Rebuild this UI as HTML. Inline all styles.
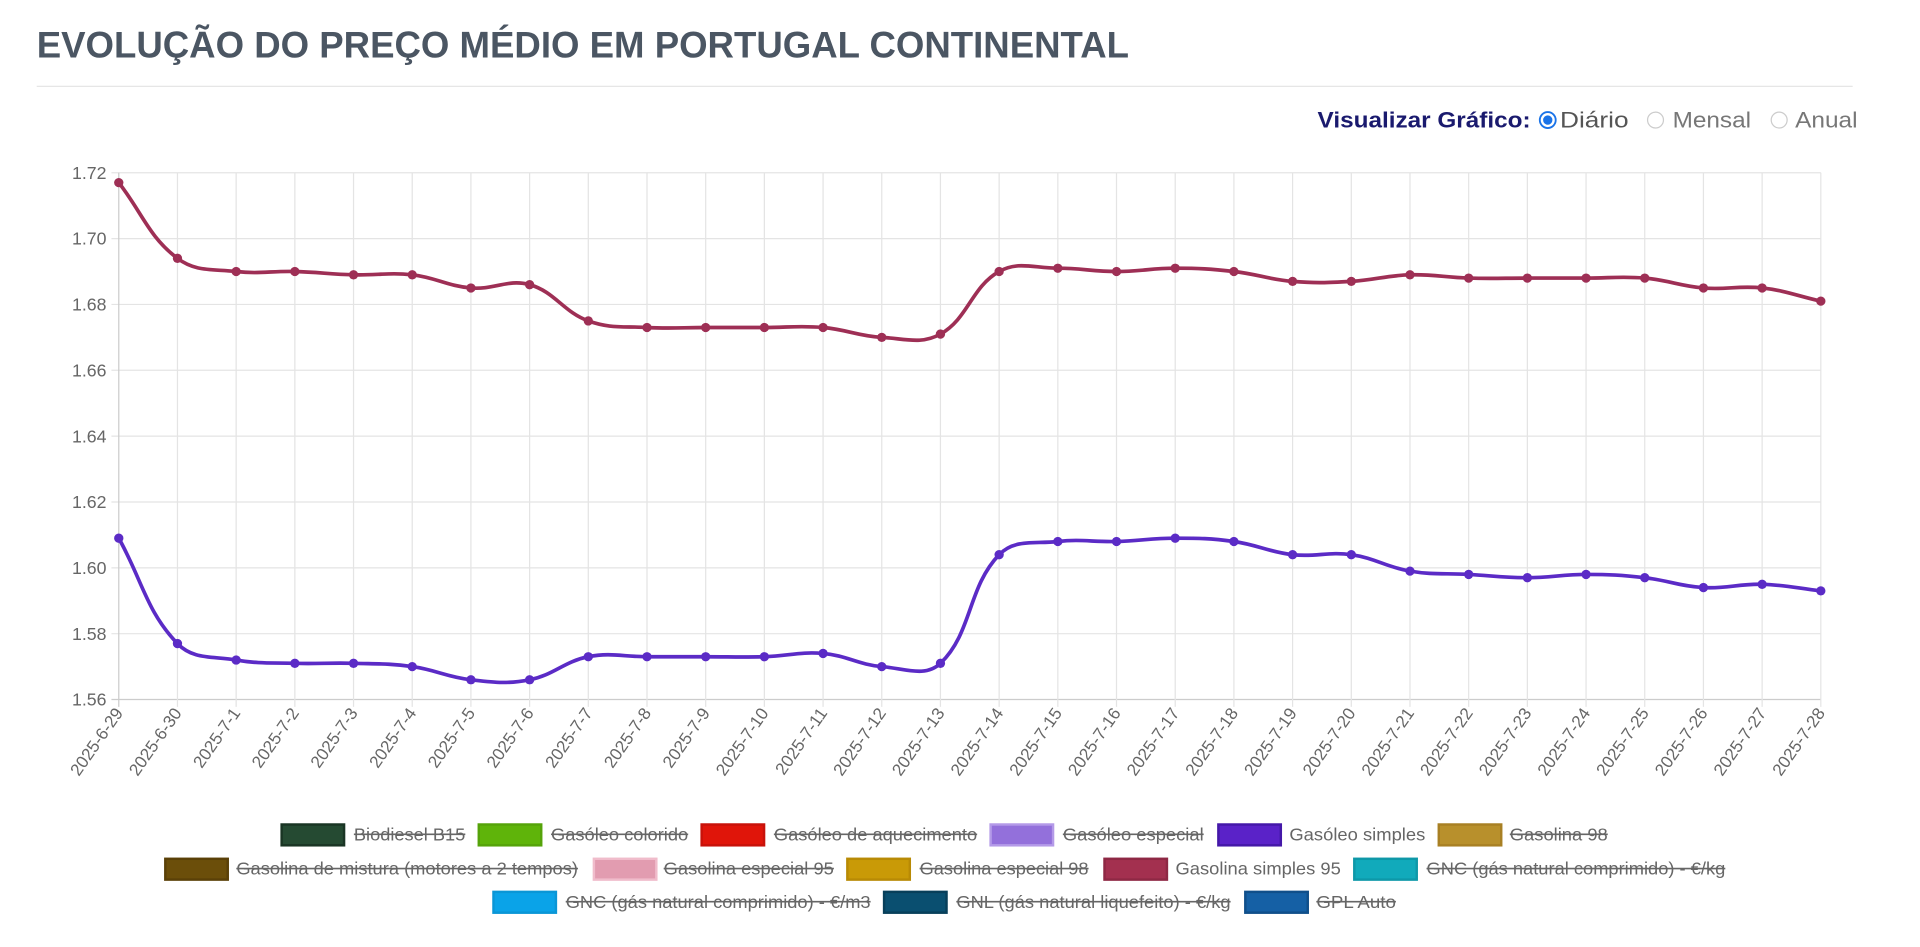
<!DOCTYPE html>
<html><head><meta charset="utf-8"><style>
html,body{margin:0;padding:0;background:#fff;width:1920px;height:947px;overflow:hidden}
svg{display:block}
text{font-family:"Liberation Sans",Arial,sans-serif}
</style></head><body>
<svg id="s" width="1920" height="947" viewBox="0 0 1568 773" preserveAspectRatio="none" xmlns="http://www.w3.org/2000/svg">
<text x="30" y="47" font-size="30" font-weight="bold" fill="#4b5663" textLength="892" lengthAdjust="spacingAndGlyphs">EVOLUÇÃO DO PREÇO MÉDIO EM PORTUGAL CONTINENTAL</text>
<line x1="30" y1="70.5" x2="1513" y2="70.5" stroke="#e6e6e6" stroke-width="1"/>
<text x="1076" y="104" font-size="18" font-weight="bold" fill="#1a1a6e" textLength="174" lengthAdjust="spacingAndGlyphs">Visualizar Gráfico:</text>
<circle cx="1264" cy="98" r="6.5" fill="#fff" stroke="#1a73e8" stroke-width="1.5"/><circle cx="1264" cy="98" r="3.8" fill="#1a73e8"/>
<text x="1274" y="104" font-size="18" fill="#555" textLength="56" lengthAdjust="spacingAndGlyphs">Diário</text>
<circle cx="1352" cy="98" r="6.5" fill="#fff" stroke="#ccc" stroke-width="1"/>
<text x="1366" y="104" font-size="18" fill="#777" textLength="64" lengthAdjust="spacingAndGlyphs">Mensal</text>
<circle cx="1453" cy="98" r="6.5" fill="#fff" stroke="#ccc" stroke-width="1"/>
<text x="1466" y="104" font-size="18" fill="#777" textLength="51" lengthAdjust="spacingAndGlyphs">Anual</text>
<g id="chart"></g>
<g id="legend"></g>
</svg>
<script>
const NS="http://www.w3.org/2000/svg";
const g=document.getElementById('chart');
function el(t,a,p,txt){const e=document.createElementNS(NS,t);for(const k in a)e.setAttribute(k,a[k]);if(txt!==undefined)e.textContent=txt;(p||g).appendChild(e);return e;}
const L=97,R=1487,T=141,B=571,n=30,step=(R-L)/29;
const yv=v=>B-(v-1.56)/0.16*(B-T);
const dates=['2025-6-29','2025-6-30'];for(let i=1;i<=28;i++)dates.push('2025-7-'+i);
for(let i=0;i<=8;i++){const y=yv(1.56+i*0.02);el('line',{x1:L-6,x2:R,y1:y,y2:y,stroke:i==0?'#ccc':'#e4e4e4','stroke-width':1});
el('text',{x:87,y:y+5,'font-size':14.5,fill:'#666','text-anchor':'end'},g,(1.56+i*0.02).toFixed(2));}
for(let i=0;i<n;i++){const x=L+i*step;el('line',{x1:x,x2:x,y1:T,y2:B+6,stroke:i==0?'#ccc':'#e4e4e4','stroke-width':1});
el('text',{transform:`translate(${x+4},${B+11}) rotate(-55)`,'font-size':14,fill:'#666','text-anchor':'end'},g,dates[i]);}
const g95=[1.717,1.694,1.690,1.690,1.689,1.689,1.685,1.686,1.675,1.673,1.673,1.673,1.673,1.670,1.671,1.690,1.691,1.690,1.691,1.690,1.687,1.687,1.689,1.688,1.688,1.688,1.688,1.685,1.685,1.681];
const gs=[1.609,1.577,1.572,1.571,1.571,1.570,1.566,1.566,1.573,1.573,1.573,1.573,1.574,1.570,1.571,1.604,1.608,1.608,1.609,1.608,1.604,1.604,1.599,1.598,1.597,1.598,1.597,1.594,1.595,1.593];
function series(d,col){const p=d.map((v,i)=>[L+i*step,yv(v)]);const t=0.4;const cps=p.map((c,i)=>{const pr=p[i-1]||c,nx=p[i+1]||c;const d01=Math.hypot(c[0]-pr[0],c[1]-pr[1]),d12=Math.hypot(nx[0]-c[0],nx[1]-c[1]);let fa=d01/(d01+d12)||0,fb=d12/(d01+d12)||0;fa*=t;fb*=t;return{p:[c[0]-fa*(nx[0]-pr[0]),c[1]-fa*(nx[1]-pr[1])],n:[c[0]+fb*(nx[0]-pr[0]),c[1]+fb*(nx[1]-pr[1])]};});
let s=`M${p[0][0]},${p[0][1]}`;for(let i=1;i<p.length;i++){s+=` C${cps[i-1].n[0]},${cps[i-1].n[1]} ${cps[i].p[0]},${cps[i].p[1]} ${p[i][0]},${p[i][1]}`;}
el('path',{d:s,fill:'none',stroke:col,'stroke-width':3});p.forEach(q=>el('circle',{cx:q[0],cy:q[1],r:3.8,fill:col}));}
series(g95,'#9e2f55');series(gs,'#5b2bc6');
const lg=document.getElementById('legend');
const items=[
[229,289,380,681,'#254a32','#1a3524','Biodiesel B15',1],[390,450,562,681,'#5fb40a','#55a30a','Gasóleo colorido',1],[572,632,798,681,'#e0150a','#c8120a','Gasóleo de aquecimento',1],[808,868,983,681,'#9370db','#b49ae8','Gasóleo especial',1],[994,1053,1164,681,'#5a22c8','#4418a8','Gasóleo simples',0],[1174,1233,1313,681,'#b8902c','#a88024','Gasolina 98',1],
[134,193,472,709,'#6b4e0a','#5a4008','Gasolina de mistura (motores a 2 tempos)',1],[484,542,681,709,'#e29cb0','#f0bccb','Gasolina especial 95',1],[691,751,889,709,'#c99a07','#b88a05','Gasolina especial 98',1],[901,960,1095,709,'#a3304f','#8e2844','Gasolina simples 95',0],[1105,1165,1409,709,'#11aabb','#0e98a8','GNC (gás natural comprimido) - €/kg',1],
[402,462,711,736,'#0aa3e8','#0a96d6','GNC (gás natural comprimido) - €/m3',1],[721,781,1005,736,'#0a4f70','#083f5a','GNL (gás natural liquefeito) - €/kg',1],[1016,1075,1140,736,'#1560a5','#104f8a','GPL Auto',1]];
items.forEach(([bx,tx,te,y,f,st,lab,strike])=>{
el('rect',{x:bx+1,y:y-8,width:51,height:17,fill:f,stroke:st,'stroke-width':2},lg);
el('text',{x:tx,y:y+5,'font-size':14.5,fill:'#666',textLength:te-tx,lengthAdjust:'spacingAndGlyphs'},lg,lab);
if(strike)el('line',{x1:tx,x2:te,y1:y,y2:y,stroke:'#666','stroke-width':1.3},lg);});
</script>
</body></html>
